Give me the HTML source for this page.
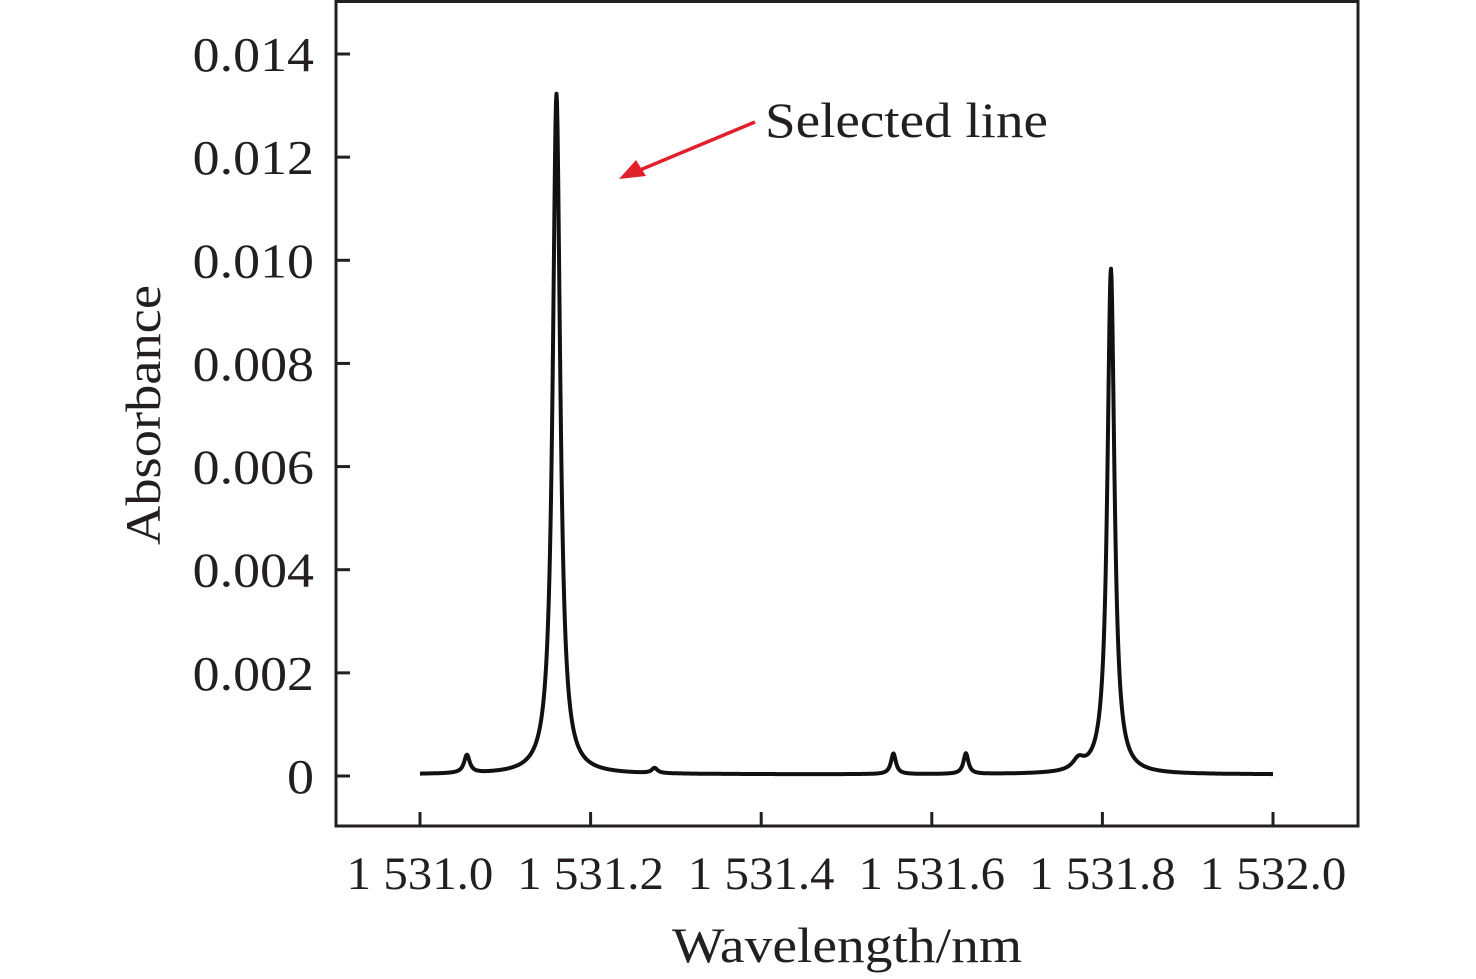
<!DOCTYPE html>
<html><head><meta charset="utf-8"><style>
html,body{margin:0;padding:0;background:#fff}
svg{display:block;font-family:"Liberation Serif",serif}
</style></head><body>
<svg id="chart" width="1476" height="979" viewBox="0 0 1476 979" xmlns="http://www.w3.org/2000/svg">
<rect x="336" y="1.5" width="1022" height="824.5" fill="none" stroke="#231f20" stroke-width="3"/>
<g id="yticks"></g>
<g id="xticks"></g>
<path id="curve" fill="none" stroke="#111" stroke-width="4" stroke-linejoin="round"/>
<text class="st" transform="translate(160,415) rotate(-90)" text-anchor="middle" font-size="50" fill="#231f20" textLength="260" lengthAdjust="spacingAndGlyphs">Absorbance</text>
<text class="st" x="847" y="962" text-anchor="middle" font-size="50" fill="#231f20" textLength="350" lengthAdjust="spacingAndGlyphs">Wavelength/nm</text>
<g>
<line x1="755" y1="122" x2="640" y2="170" stroke="#e0202c" stroke-width="3.5"/>
<polygon points="619,179 636,160 646,176" fill="#e0202c"/>
<text x="765" y="137" font-size="50" fill="#231f20" textLength="283" lengthAdjust="spacingAndGlyphs">Selected line</text>
</g>
</svg>
<script>
const yTicks=[0,0.002,0.004,0.006,0.008,0.010,0.012,0.014];
const yTickLabels=["0","0.002","0.004","0.006","0.008","0.010","0.012","0.014"];
const xTicks=[1531.0,1531.2,1531.4,1531.6,1531.8,1532.0];
const xTickLabels=["1 531.0","1 531.2","1 531.4","1 531.6","1 531.8","1 532.0"];
const peakCenters=[1531.055,1531.16,1531.275,1531.555,1531.64,1531.772,1531.81];
const peakHeights=[0.00035,0.0132,0.0001,0.0004,0.0004,0.0002,0.0098];
const peakWidths=[0.004,0.0053,0.004,0.0035,0.0035,0.008,0.005];
const baseline=0.00003;
const xRange=[1531.0,1532.0];
const NS="http://www.w3.org/2000/svg";
const X=v=>420+(v-1531.0)*853;
const Y=v=>776-v*(722/0.014);
function stretch(el,f){const w=el.getComputedTextLength();el.setAttribute('textLength',(w*f).toFixed(1));el.setAttribute('lengthAdjust','spacingAndGlyphs');}
const yg=document.getElementById('yticks'),xg=document.getElementById('xticks');
yTicks.forEach((t,i)=>{
 const l=document.createElementNS(NS,'line');
 
 
 l.setAttribute('x1',336);l.setAttribute('x2',350);l.setAttribute('y1',Y(t));l.setAttribute('y2',Y(t));
 l.setAttribute('stroke','#231f20');l.setAttribute('stroke-width',3);yg.appendChild(l);
 const tx=document.createElementNS(NS,'text');
 
 
 tx.setAttribute('x',314);tx.setAttribute('y',Y(t)+17);tx.setAttribute('text-anchor','end');
 tx.setAttribute('font-size','49');tx.setAttribute('fill','#231f20');tx.textContent=yTickLabels[i];yg.appendChild(tx);
 stretch(tx,1.1);
});
xTicks.forEach((t,i)=>{
 const l=document.createElementNS(NS,'line');
 
 
 l.setAttribute('x1',X(t));l.setAttribute('x2',X(t));l.setAttribute('y1',812);l.setAttribute('y2',826);
 l.setAttribute('stroke','#231f20');l.setAttribute('stroke-width',3);xg.appendChild(l);
 const tx=document.createElementNS(NS,'text');
 
 
 tx.setAttribute('x',X(t));tx.setAttribute('y',889);tx.setAttribute('text-anchor','middle');
 tx.setAttribute('font-size','47');tx.setAttribute('fill','#231f20');tx.textContent=xTickLabels[i];xg.appendChild(tx);
 stretch(tx,1.04);
});
let d='';
for(let px=X(xRange[0]);px<=X(xRange[1]);px+=0.5){
 const w=1531.0+(px-420)/853;
 let v=baseline;
 peakCenters.forEach((c,i)=>{const g=peakWidths[i];v+=peakHeights[i]*g*g/(g*g+(w-c)*(w-c));});
 d+=(d?'L':'M')+px.toFixed(1)+','+Y(v).toFixed(1);
}
document.getElementById('curve').setAttribute('d',d);
</script>
</body></html>
